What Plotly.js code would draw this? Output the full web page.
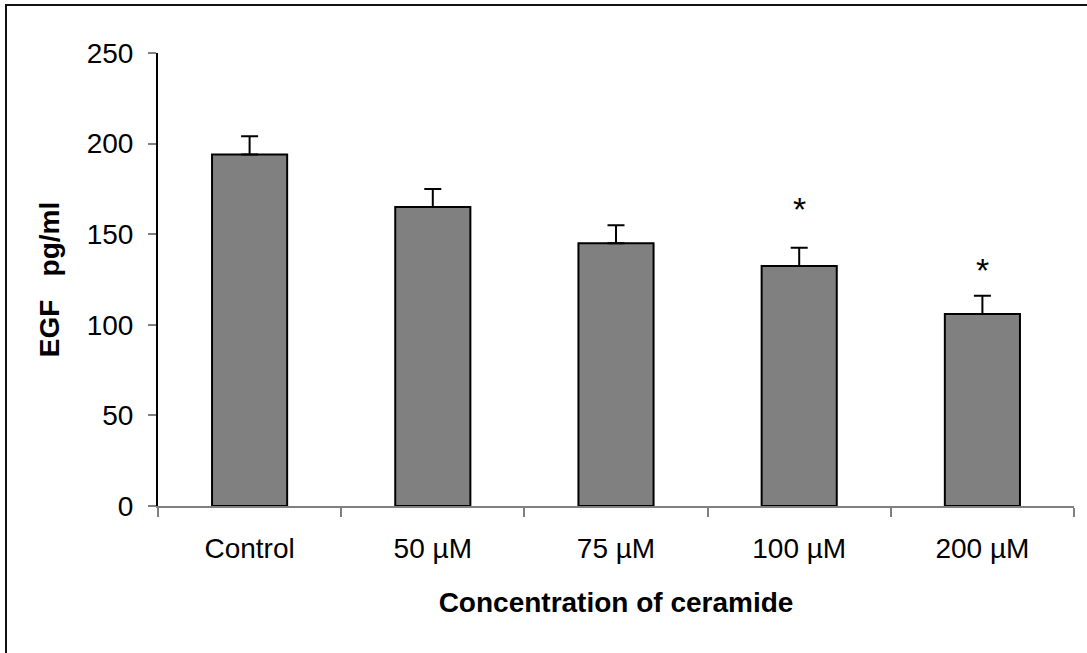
<!DOCTYPE html>
<html>
<head>
<meta charset="utf-8">
<script src="https://cdn.plot.ly/plotly-3.0.1.min.js"></script>
<style>
  html, body { margin: 0; padding: 0; background: #fff; overflow: hidden; }
  #chart { width: 1087px; height: 653px; }
  #frame { position: absolute; left: 5px; top: 4px; width: 1200px; height: 800px;
           border: 2px solid #111; pointer-events: none; }
</style>
</head>
<body>
<div id="chart"></div>
<div id="frame"></div>
<script>
// Data
const categories = ["Control", "50 µM", "75 µM", "100 µM", "200 µM"];
const egfMeans   = [194, 165, 145, 132.5, 106];
const egfErrors  = [10, 10, 10, 10, 10];
const significance = ["", "", "", "*", "*"];
const yTicks = [0, 50, 100, 150, 200, 250];

const font = "Liberation Sans, Arial, sans-serif";

const trace = {
  type: "bar",
  x: categories,
  y: egfMeans,
  width: 0.41,
  marker: { color: "#808080", line: { color: "#000", width: 2 } },
  error_y: { type: "data", array: egfErrors, symmetric: false, arrayminus: egfErrors.map(() => 0),
             color: "#000", thickness: 2, width: 8.5 },
  hoverinfo: "x+y"
};

const starShift = [0, 0, 0, 18, 5];
const annotations = [];
categories.forEach((c, i) => {
  if (significance[i]) {
    annotations.push({
      x: c, y: egfMeans[i] + egfErrors[i], xref: "x", yref: "y",
      text: significance[i], showarrow: false, yanchor: "bottom",
      yshift: starShift[i],
      font: { family: font, size: 34, color: "#000" }
    });
  }
});

const layout = {
  width: 1087, height: 653,
  margin: { l: 158, r: 13, t: 53, b: 146.5 },
  paper_bgcolor: "#fff", plot_bgcolor: "#fff",
  showlegend: false,
  bargap: 0.59,
  font: { family: font, size: 28, color: "#000" },
  xaxis: {
    type: "category",
    showline: true, linecolor: "#808080", linewidth: 2,
    ticks: "outside", tickson: "boundaries", ticklen: 9, tickcolor: "#808080", tickwidth: 2,
    tickfont: { family: font, size: 28, color: "#000" },
    ticklabelstandoff: 16,
    showgrid: false, zeroline: false,
    title: { text: "<b>Concentration of ceramide</b>", standoff: 30,
             font: { family: font, size: 28, color: "#000" } }
  },
  yaxis: {
    range: [0, 250], tickvals: yTicks, ticktext: yTicks.map(String),
    showline: true, linecolor: "#000", linewidth: 2,
    ticks: "outside", ticklen: 8, tickcolor: "#808080", tickwidth: 2,
    tickfont: { family: font, size: 28, color: "#000" },
    ticklabelstandoff: 9,
    showgrid: false, zeroline: false,
    title: { text: "<b>EGF&nbsp;&nbsp;&nbsp;pg/ml</b>", standoff: 19,
             font: { family: font, size: 28, color: "#000" } }
  },
  annotations: annotations
};

Plotly.newPlot("chart", [trace], layout, { displayModeBar: false, staticPlot: true });
</script>
</body>
</html>
